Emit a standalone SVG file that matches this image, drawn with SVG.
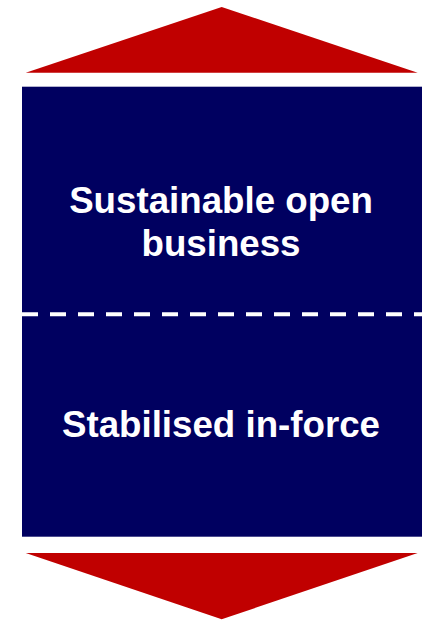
<svg xmlns="http://www.w3.org/2000/svg" width="425" height="620" viewBox="0 0 425 620">
<style>
.arrow{fill:#C00000}
.box{fill:#000060}
.lbl{font-family:"Liberation Sans",Arial,sans-serif;font-weight:bold;font-size:36.7px;fill:#FFFFFF;text-anchor:middle}
.div{stroke:#FFFFFF;stroke-width:4;stroke-dasharray:16 12;fill:none}
</style>
<rect width="425" height="620" fill="#FFFFFF"/>
<g id="arrow-up"><polygon class="arrow" points="221.7,7 417.7,72.7 25.7,72.7"/></g>
<g id="box"><rect class="box" x="22" y="86.7" width="400" height="450"/></g>
<g id="connectors"><line class="div" x1="22" y1="314.3" x2="422" y2="314.3"/></g>
<g id="node-open"><text class="lbl" x="221" y="213.3">Sustainable open</text><text class="lbl" x="221" y="256">business</text></g>
<g id="node-inforce"><text class="lbl" x="221" y="436.7">Stabilised in-force</text></g>
<g id="arrow-down"><polygon class="arrow" points="25.7,553 417.7,553 221.7,619.3"/></g>
</svg>
